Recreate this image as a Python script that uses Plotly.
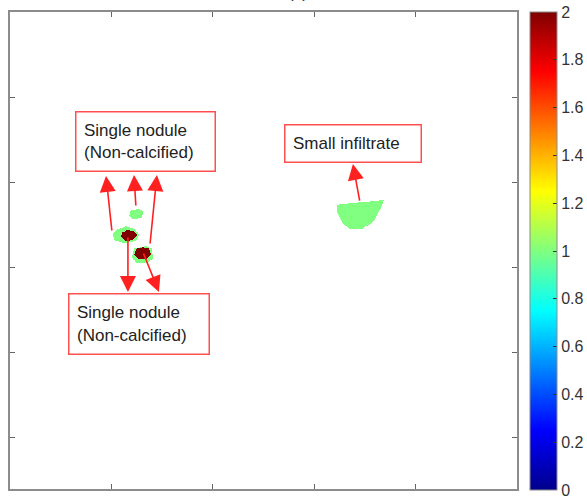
import numpy as np
import plotly.graph_objects as go

# ---------------- data (image units: x 0..500, y 0..560, y downward) ----------------
x_ticks = [100, 200, 300, 400]
y_ticks = [100, 200, 300, 400, 500]
cbar_ticks = [0, 0.2, 0.4, 0.6, 0.8, 1, 1.2, 1.4, 1.6, 1.8, 2]
cbar_labels = ["0", "0.2", "0.4", "0.6", "0.8", "1", "1.2", "1.4", "1.6", "1.8", "2"]

lesion_value = 1.0   # light green regions
core_value = 2.0     # dark red cores

nodule_top_green = [(119, 232), (128, 231), (131, 235), (130, 242), (121, 243), (117, 240)]
nodule_mid_green = [(105, 256), (114, 252), (123, 255), (127, 262), (124, 269), (112, 271), (103, 268), (102, 261)]
nodule_mid_core = [(110, 259), (115, 256), (122, 257), (125, 262), (121, 268), (114, 269), (109, 265)]
nodule_low_green = [(122, 278), (134, 275), (140, 278), (141, 289), (136, 295), (124, 295), (120, 288)]
nodule_low_core = [(124, 279), (131, 276), (137, 278), (139, 285), (135, 290), (127, 290), (122, 285)]
infiltrate_green = [(322, 227), (335, 224), (350, 223), (369, 221), (365, 232), (358, 247),
                    (347, 255), (335, 255), (327, 247), (322, 235)]

green_regions = [nodule_top_green, nodule_mid_green, nodule_low_green, infiltrate_green]
core_regions = [nodule_mid_core, nodule_low_core]

label_texts = ["Single nodule<br>(Non-calcified)", "Single nodule<br>(Non-calcified)", "Small infiltrate"]
label_x = [133.6, 127.2, 338.2]
label_y = [152.0, 366.3, 154.4]
label_w = [123, 124, 120]
label_h = [43, 44, 21]

# arrows: (tail_x, tail_y, tip_x, tip_y)
arrow_tail_x = [100.6, 124.2, 138.0, 116.3, 131.1, 345.1]
arrow_tail_y = [258.3, 228.9, 273.5, 263.0, 281.8, 223.1]
arrow_tip_x = [94.7, 122.3, 144.9, 116.3, 146.9, 338.2]
arrow_tip_y = [192.5, 191.4, 191.4, 328.7, 328.7, 178.4]

# ---------------- build the map ----------------
xs = np.arange(95, 376, 1.0)
ys = np.arange(215, 300, 1.0)
GX, GY = np.meshgrid(xs, ys)


def inside(px, py, poly):
    poly = np.asarray(poly, dtype=float)
    n = len(poly)
    res = np.zeros(px.shape, dtype=bool)
    j = n - 1
    for i in range(n):
        xi, yi = poly[i]
        xj, yj = poly[j]
        cond = ((yi > py) != (yj > py)) & (px < (xj - xi) * (py - yi) / (yj - yi + 1e-12) + xi)
        res ^= cond
        j = i
    return res


Z = np.full(GX.shape, np.nan)
for poly in green_regions:
    Z[inside(GX + 0.5, GY + 0.5, poly)] = lesion_value
for poly in core_regions:
    Z[inside(GX + 0.5, GY + 0.5, poly)] = core_value
z_list = [[None if np.isnan(v) else float(v) for v in row] for row in Z]

jet = [[0.0, "rgb(0,0,140)"], [0.125, "rgb(0,0,255)"], [0.375, "rgb(0,255,255)"],
       [0.625, "rgb(255,255,0)"], [0.875, "rgb(255,0,0)"], [1.0, "rgb(128,0,0)"]]

W, H = 587, 502
ml, mr, mt, mb = 10, 70, 12, 13
plot_w = W - ml - mr
plot_h = H - mt - mb

fig = go.Figure()
fig.add_trace(go.Heatmap(
    x=[float(v) + 0.5 for v in xs], y=[float(v) + 0.5 for v in ys], z=z_list,
    colorscale=jet, zmin=0, zmax=2, zsmooth=False, hoverinfo="skip",
    colorbar=dict(
        x=1 + 13 / plot_w, xanchor="left", y=1, yanchor="top",
        len=plot_h + 1, lenmode="pixels", thickness=27, thicknessmode="pixels",
        outlinecolor="#8c8c8c", outlinewidth=1,
        tickmode="array", tickvals=cbar_ticks, ticktext=cbar_labels,
        ticks="inside", ticklen=4, tickcolor="#333333",
        tickfont=dict(family="Liberation Sans, Arial", size=16, color="#333333"),
        xpad=0, ypad=0,
    ),
))

annotations = []
for t, x, y, w, h in zip(label_texts, label_x, label_y, label_w, label_h):
    annotations.append(dict(
        x=x, y=y, xref="x", yref="y", text=t, showarrow=False, align="left",
        width=w, height=h, valign="middle", bgcolor="white",
        bordercolor="#ff4f4f", borderwidth=1.5, borderpad=7.5,
        font=dict(family="Liberation Sans, Arial", size=17, color="#222222"),
    ))
for tx, ty, hx, hy in zip(arrow_tail_x, arrow_tail_y, arrow_tip_x, arrow_tip_y):
    annotations.append(dict(
        x=hx, y=hy, ax=tx, ay=ty, xref="x", yref="y", axref="x", ayref="y",
        text="", showarrow=True, arrowhead=2, arrowsize=2.0, arrowwidth=1.6,
        arrowcolor="#ff2020", standoff=0, startstandoff=0,
    ))
annotations.append(dict(
    x=0.568, y=1 + 8 / plot_h, xref="paper", yref="paper", yanchor="bottom",
    text="(c)", showarrow=False,
    font=dict(family="Liberation Sans, Arial", size=17, color="#333333"),
))

axis_common = dict(
    showgrid=False, zeroline=False, showticklabels=False,
    showline=True, linecolor="#8c8c8c", linewidth=1.5, mirror="ticks",
    ticks="inside", ticklen=5, tickwidth=1, tickcolor="#666666",
)
fig.update_layout(
    width=W, height=H,
    margin=dict(l=ml, r=mr, t=mt, b=mb, autoexpand=False),
    paper_bgcolor="white", plot_bgcolor="white",
    xaxis=dict(range=[0, 500], tickvals=x_ticks, **axis_common),
    yaxis=dict(range=[560, 0], tickvals=y_ticks, **axis_common),
    annotations=annotations,
    showlegend=False,
)

fig.write_html(
    "out.html",
    config={"displayModeBar": False},
    post_script="document.body.style.margin='0';document.body.style.overflow='hidden';",
)
